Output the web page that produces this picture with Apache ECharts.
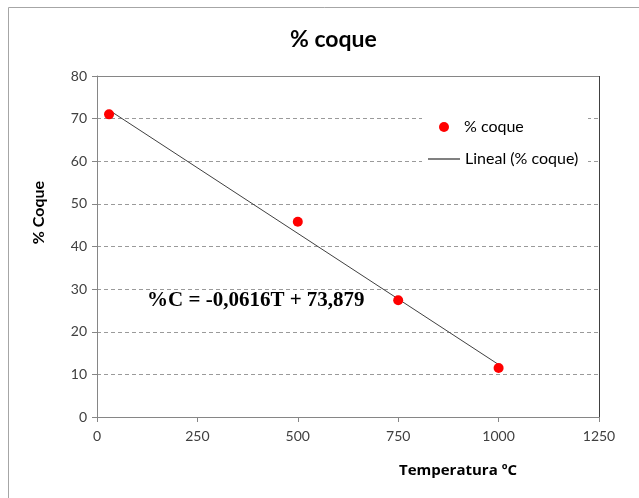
<!DOCTYPE html>
<html><head><meta charset="utf-8">
<script src="https://cdn.jsdelivr.net/npm/echarts@6/dist/echarts.min.js"></script>
<style>html,body{margin:0;padding:0;background:#fff}#c{width:639px;height:498px}</style>
</head><body><div id="c"></div>
<script>
// Data
const temperatures = [30, 500, 750, 1000];
const coquePct = [71, 45.8, 27.4, 11.5];
const trendX = [30, 1000];
const trendY = [72.0, 12.3];
const xTicks = [0, 250, 500, 750, 1000, 1250];
const yTicks = [0, 10, 20, 30, 40, 50, 60, 70, 80];
const equationText = '%C = -0,0616T + 73,879';

const font = 'Lato, "Open Sans", sans-serif';
const chart = echarts.init(document.getElementById('c'), null, {renderer: 'canvas'});
chart.setOption({
  animation: false,
  backgroundColor: '#ffffff',
  title: {
    text: '% coque', left: 285, top: 23,
    textStyle: {fontFamily: font, fontSize: 23, fontWeight: 'bold', color: '#000'}
  },
  legend: [
    {data: ['% coque'], left: 434, top: 114, icon: 'circle', itemWidth: 10, itemHeight: 10, z: 6,
     textStyle: {fontFamily: font, fontSize: 16, color: '#000', padding: [0, 0, 0, 10]}},
    {data: ['Lineal (% coque)'], left: 423, top: 146, icon: 'rect', itemWidth: 32, itemHeight: 2, z: 6,
     itemStyle: {color: '#808080'},
     textStyle: {fontFamily: font, fontSize: 16, color: '#000'}}
  ],
  grid: {left: 97, right: 40, top: 76, bottom: 81, containLabel: false},
  xAxis: {
    type: 'value', min: xTicks[0], max: xTicks[xTicks.length - 1], interval: 250,
    name: 'Temperatura ºC', nameLocation: 'middle', nameGap: 46,
    nameTextStyle: {fontFamily: '"Open Sans", sans-serif', fontSize: 15, fontWeight: 'bold', color: '#000', padding: [0, 0, 0, 220]},
    axisLine: {show: true, lineStyle: {color: '#868686', width: 1}},
    axisTick: {show: true, length: 5, lineStyle: {color: '#868686'}},
    axisLabel: {fontFamily: font, fontSize: 14, color: '#404040', margin: 12, formatter: v => String(v)},
    splitLine: {show: false}
  },
  yAxis: {
    type: 'value', min: yTicks[0], max: yTicks[yTicks.length - 1], interval: 10,
    name: '% Coque', nameLocation: 'middle', nameGap: 50, nameRotate: 90,
    nameTextStyle: {fontFamily: font, fontSize: 16, fontWeight: 'bold', color: '#000', padding: [0, 0, 0, 68]},
    axisLine: {show: true, lineStyle: {color: '#868686', width: 1}},
    axisTick: {show: true, length: 5, lineStyle: {color: '#868686'}},
    axisLabel: {fontFamily: font, fontSize: 14, color: '#404040', margin: 10, formatter: v => String(v)},
    splitLine: {show: true, lineStyle: {color: '#9a9a9a', type: [4, 3], width: 1}}
  },
  graphic: [
    {type: 'rect', shape: {x: 8.5, y: 7.5, width: 700, height: 600}, style: {fill: null, stroke: '#a6a6a6', lineWidth: 1}, silent: true, z: -1},
    {type: 'rect', shape: {x: 422, y: 108, width: 166, height: 62}, style: {fill: '#ffffff'}, silent: true, z: 4},
    {type: 'line', shape: {x1: 97, y1: 76.5, x2: 599.5, y2: 76.5}, style: {stroke: '#868686', lineWidth: 1}, z: 5},
    {type: 'line', shape: {x1: 599.5, y1: 76, x2: 599.5, y2: 417}, style: {stroke: '#404040', lineWidth: 1}, z: 5},
    {type: 'text', left: 147, top: 290, z: 10,
     style: {text: equationText, font: 'bold 21px "Liberation Serif", "Times New Roman", serif', fill: '#000'}}
  ],
  series: [
    {name: 'Lineal (% coque)', type: 'line', data: trendX.map((x, i) => [x, trendY[i]]),
     showSymbol: false, symbol: 'none', lineStyle: {color: '#404040', width: 1}, itemStyle: {color: '#808080'}, z: 2},
    {name: '% coque', type: 'scatter', data: temperatures.map((x, i) => [x, coquePct[i]]),
     symbol: 'circle', symbolSize: 10, itemStyle: {color: '#ff0000', opacity: 1}, z: 3}
  ]
});
</script></body></html>
